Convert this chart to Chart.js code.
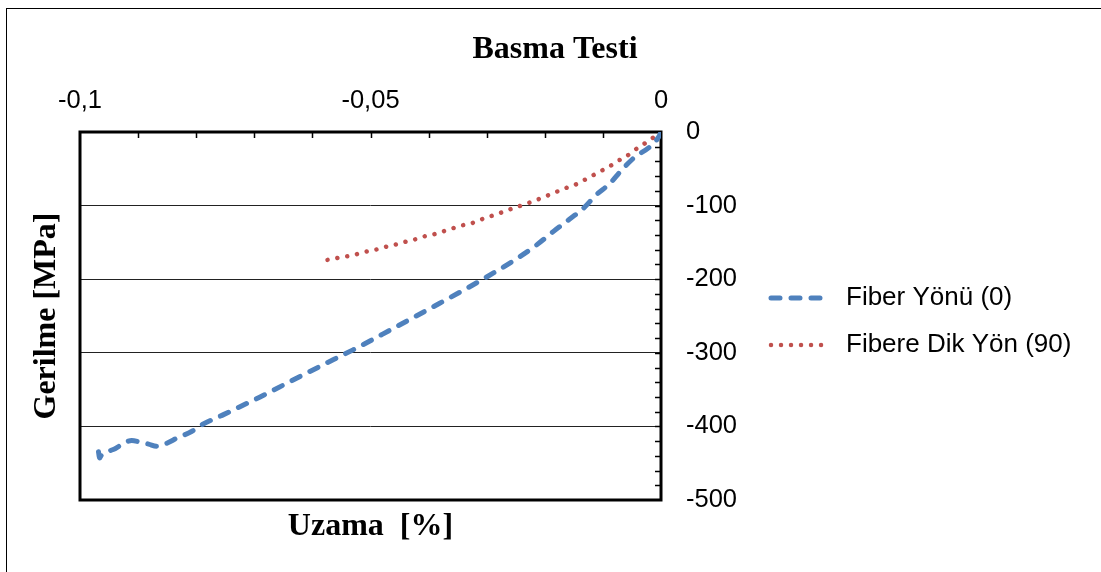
<!DOCTYPE html>
<html>
<head>
<meta charset="utf-8">
<script src="https://cdn.jsdelivr.net/npm/chart.js@4.4.1/dist/chart.umd.min.js"></script>
<style>
  html, body { margin: 0; padding: 0; background: #fff; overflow: hidden; }
  #wrap { position: relative; width: 1101px; height: 572px; }
  #frame { position: absolute; left: 6px; top: 8px; width: 1200px; height: 700px; border: 1.5px solid #000; }
  canvas { position: absolute; left: 0; top: 0; }
</style>
</head>
<body>
<div id="wrap">
  <div id="frame"></div>
  <canvas id="grafik" width="1101" height="572"></canvas>
</div>
<script>
// Basma testi: uzama (%) - gerilme (MPa)
const fiberUzama = [0, -0.0002, -0.0019, -0.0045, -0.0068, -0.0088, -0.0111, -0.0134, -0.016, -0.0185,
  -0.0215, -0.0248, -0.03, -0.034, -0.0398, -0.0426, -0.0466, -0.0501, -0.053, -0.0558,
  -0.0621, -0.069, -0.0753, -0.0793, -0.0808, -0.0831, -0.0854, -0.0868, -0.0882, -0.0894,
  -0.0911, -0.0925, -0.0939, -0.0951, -0.0964, -0.0966, -0.0969];
const fiberGerilme = [0, -4, -20, -34, -52, -70, -85, -104, -120, -135,
  -154, -172, -197, -215, -240, -252, -269, -284, -296, -307,
  -332, -360, -384, -399, -407, -415, -424, -427, -424, -422,
  -419, -423, -430, -434, -440, -443, -430];

const dikUzama = [0, -0.0025, -0.0039, -0.0051, -0.0065, -0.0074, -0.0087, -0.0101, -0.0115, -0.0129,
  -0.0143, -0.0152, -0.0167, -0.0185, -0.021, -0.023, -0.0252, -0.0267, -0.0283, -0.03,
  -0.0316, -0.0326, -0.0343, -0.0359, -0.0375, -0.0391, -0.0408, -0.0419, -0.0435, -0.0452,
  -0.0469, -0.0487, -0.0504, -0.0515, -0.0533, -0.055, -0.0568, -0.0585];
const dikGerilme = [0, -14, -21, -28, -36, -39, -46, -52, -58, -64,
  -70, -73, -77, -83, -91, -97, -103, -107, -112, -116,
  -121, -124, -127, -131, -135, -139, -142, -145, -148, -152,
  -155, -159, -162, -164, -168, -170, -173, -175];

const seriAdlari = ["Fiber Yönü (0)", "Fibere Dik Yön (90)"];
const baslik = "Basma Testi";
const xBaslik = "Uzama  [%]";
const yBaslik = "Gerilme [MPa]";

const noktalar = (xs, ys) => xs.map((x, i) => ({ x, y: ys[i] }));

const yaziSans = "'Liberation Sans', Arial, sans-serif";
const yaziSerif = "'Liberation Serif', 'Times New Roman', serif";

// Çizim alanı çerçevesi, içe dönük ara çentikler, başlıklar ve lejant
const ekler = {
  id: "ekler",
  beforeDatasetsDraw(chart) {
    const { ctx, chartArea: a } = chart;
    ctx.save();
    ctx.strokeStyle = "#000";
    ctx.lineWidth = 3;
    ctx.strokeRect(a.left, a.top, a.right - a.left, a.bottom - a.top);

    ctx.lineWidth = 1.5;
    ctx.beginPath();
    const xs = chart.scales.x;
    for (let i = 1; i < 10; i++) {
      const px = Math.round(xs.getPixelForValue(-i / 100)) + 0.5;
      ctx.moveTo(px, a.top);
      ctx.lineTo(px, a.top + 6);
    }
    const ys = chart.scales.y;
    for (let v = -20; v > -500; v -= 20) {
      const py = Math.round(ys.getPixelForValue(v)) + 0.5;
      ctx.moveTo(a.right, py);
      ctx.lineTo(a.right - 6, py);
    }
    ctx.stroke();
    ctx.restore();
  },
  afterDraw(chart) {
    const { ctx, chartArea: a } = chart;
    ctx.save();
    ctx.fillStyle = "#000";
    ctx.textAlign = "center";
    ctx.textBaseline = "middle";
    ctx.font = "bold 32px " + yaziSerif;
    ctx.fillText(baslik, 555, 50);
    ctx.fillText(xBaslik, (a.left + a.right) / 2, 527);
    ctx.translate(47, 316);
    ctx.rotate(-Math.PI / 2);
    ctx.fillText(yBaslik, 0, 0);
    ctx.restore();

    // lejant
    const satirlar = [298, 345];
    chart.data.datasets.forEach((ds, i) => {
      const y = satirlar[i];
      ctx.save();
      ctx.strokeStyle = ds.borderColor;
      ctx.lineWidth = ds.borderWidth;
      ctx.lineCap = ds.borderCapStyle;
      ctx.setLineDash(ds.borderDash);
      ctx.beginPath();
      ctx.moveTo(771, y);
      ctx.lineTo(830, y);
      ctx.stroke();
      ctx.setLineDash([]);
      ctx.fillStyle = "#000";
      ctx.font = "26px " + yaziSans;
      ctx.textAlign = "left";
      ctx.textBaseline = "middle";
      ctx.fillText(ds.label, 846, y);
      ctx.restore();
    });
  }
};

new Chart(document.getElementById("grafik"), {
  type: "scatter",
  data: {
    datasets: [
      {
        label: seriAdlari[0],
        data: noktalar(fiberUzama, fiberGerilme),
        showLine: true,
        borderColor: "#4F81BD",
        borderWidth: 5,
        borderDash: [9, 11],
        borderCapStyle: "round",
        borderJoinStyle: "round",
        pointRadius: 0,
        cubicInterpolationMode: "monotone"
      },
      {
        label: seriAdlari[1],
        data: noktalar(dikUzama, dikGerilme),
        showLine: true,
        borderColor: "#C0504D",
        borderWidth: 4.5,
        borderDash: [0.01, 10],
        borderCapStyle: "round",
        borderJoinStyle: "round",
        pointRadius: 0,
        cubicInterpolationMode: "monotone"
      }
    ]
  },
  options: {
    responsive: false,
    animation: false,
    events: [],
    layout: { padding: { left: 80, top: 60, right: 320, bottom: 72 } },
    plugins: {
      legend: { display: false },
      tooltip: { enabled: false }
    },
    scales: {
      x: {
        type: "linear",
        position: "top",
        min: -0.1,
        max: 0,
        afterFit: (s) => { s.height = 72; },
        grid: { display: false },
        border: { display: false },
        ticks: {
          stepSize: 0.05,
          padding: 8,
          color: "#000",
          font: { family: yaziSans, size: 25.5 },
          callback: (v) => String(Math.round(v * 100) / 100).replace(".", ",")
        }
      },
      y: {
        type: "linear",
        position: "right",
        min: -500,
        max: 0,
        afterFit: (s) => { s.width = 120; },
        grid: { color: "#222", lineWidth: 1, drawTicks: false },
        border: { display: false },
        ticks: {
          stepSize: 100,
          padding: 25,
          color: "#000",
          font: { family: yaziSans, size: 25.5 }
        }
      }
    }
  },
  plugins: [ekler]
});
</script>
</body>
</html>
